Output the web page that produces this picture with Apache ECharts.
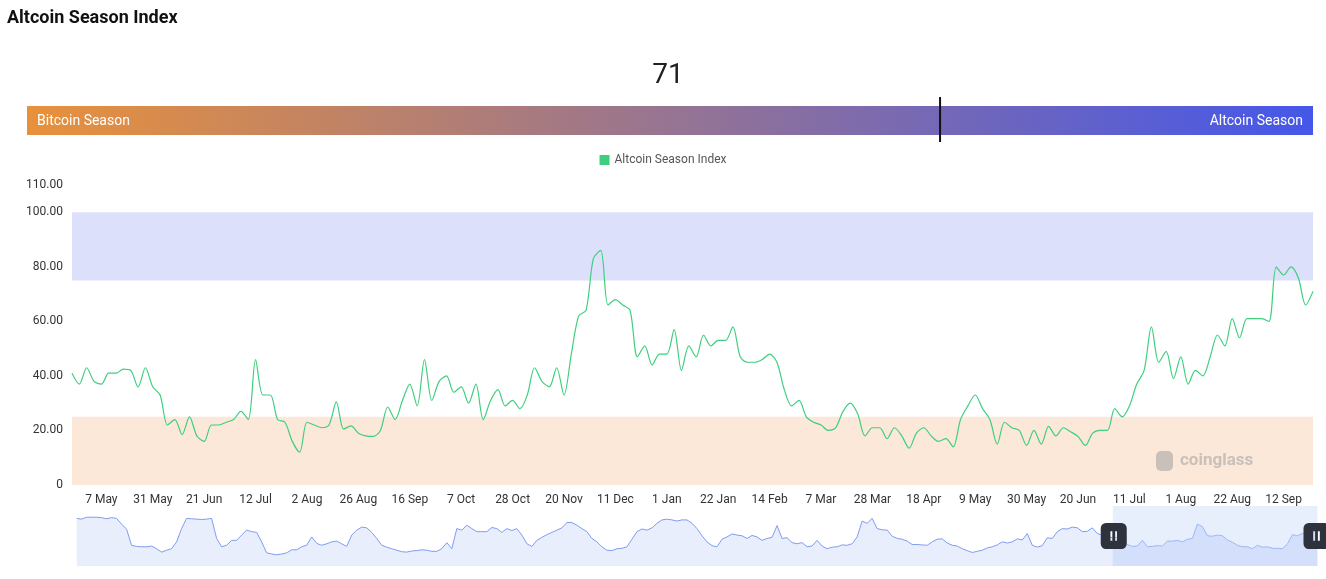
<!DOCTYPE html>
<html>
<head>
<meta charset="utf-8">
<script src="https://cdn.jsdelivr.net/npm/echarts@6/dist/echarts.min.js"></script>
<style>
html,body{margin:0;padding:0;background:#fff;}
#chart{width:1326px;height:579px;}
</style>
</head>
<body>
<div id="chart"></div>
<script>
// ---- data ----
const tickLabels = ['7 May','31 May','21 Jun','12 Jul','2 Aug','26 Aug','16 Sep','7 Oct','28 Oct','20 Nov','11 Dec','1 Jan','22 Jan','14 Feb','7 Mar','28 Mar','18 Apr','9 May','30 May','20 Jun','11 Jul','1 Aug','22 Aug','12 Sep'];
const firstTickIndex = 4;
const tickStep = 7;

// Altcoin Season Index, visible window (3-day steps)
const recentValues = [
  41,37,43,38,37,41,41,42.5,42,36,
  43,36,33,22,24,18.5,25,18,16,22,
  22,23,24,27,24,46,33,33,24,23,
  16,12,23,22,21,22,30.5,20.5,21.7,19,
  18,17.8,20,28.6,24,31,37,29,46,31,
  38,40,34,36,30,37,24,31,35,29,
  31,28,33,43,38,36,43,33,48,62,
  64,83,86,66,68,66,64,47,51,44,
  48,48,57,42,51,47,55,51,53,53,
  58,47,45,45,46,48,45,35,29,31,
  25,23,22,20,21,27,30,26,18,21,
  21,17,21,18,13.5,19,21,18,16,17,
  14,24,29,33,28,24,15,23,21,20,
  14.5,20,15,21.5,18,21,19.5,17.8,14.5,19,
  20,20,28,25,29,37,42,58,45,49,
  39,47,37,42,40,47,55,51,61,54,
  61,61,61,60,80,77,80,76,66,71
];

// full history (overview shown in the slider)
const historyValues = [
  97,95,100,100,100,99,96,99,97,82,
  69,26,23,22,22,24,17,8,13,17,
  35,70,97,96,95,94,95,97,44,22,
  26,39,39,53,66,62,60,35,6,3,
  1,3,6,14,14,22,26,48,31,26,
  30,35,37,30,23,53,66,74,72,60,
  44,26,21,17,13,9,8,11,12,14,
  13,10,10,17,33,17,70,66,79,70,
  62,62,62,73,70,60,
  70,65,70,53,30,23,39,47,54,60,
  66,72,86,86,79,70,62,44,35,22,
  13,12,17,18,22,42,62,69,66,72,
  84,93,95,93,90,93,93,84,70,51,
  35,25,22,42,48,56,53,51,44,52,
  48,39,44,47,78,44,46,33,30,33,
  22,24,39,24,17,21,22,27,26,30,
  48,90,84,97,70,67,66,50,44,42,
  37,28,28,27,26,35,42,
  43,32,26,24,17,12,7,10,13,19,
  22,27,35,32,35,43,40,57,26,21,
  25,46,44,62,70,69,74,72,62,63,
  72,57,53,49,46,47,42,28,23,24,
  39,22,23,25,24,37,37,39,35,42,
  44,82,75,51,50,53,51,40,34,26,
  22,22,17,26,21,22,18,18,17,30,
  54,51,57,60,70,73
];

const altcoinBand = [75, 100];
const bitcoinBand = [0, 25];
const windowStartPercent = 83.5;

// ---- build ----
const categories = recentValues.map(function (_, i) {
  const k = (i - firstTickIndex) / tickStep;
  return (i >= firstTickIndex && Number.isInteger(k) && k < tickLabels.length) ? tickLabels[k] : '';
});
const historyCategories = historyValues.map(function (_, i) { return String(i); });
const currentValue = recentValues[recentValues.length - 1];

const FONT = "Roboto, 'Noto Sans', sans-serif";
const barLeft = 27, barWidth = 1286, barTop = 106, barHeight = 29;
const markerX = barLeft + barWidth * currentValue / 100;

const handlePath = 'path://M3,0H12A3,3,0,0,1,15,3V12A3,3,0,0,1,12,15H3A3,3,0,0,1,0,12V3A3,3,0,0,1,3,0Z' +
  'M5.6,4.8V10.2H6.7V4.8Z M8.3,4.8V10.2H9.4V4.8Z';

const chart = echarts.init(document.getElementById('chart'));
chart.setOption({
  animation: false,
  backgroundColor: '#fff',
  textStyle: { fontFamily: FONT },
  legend: {
    data: ['Altcoin Season Index'],
    top: 149,
    left: 'center',
    icon: 'rect',
    itemWidth: 10,
    itemHeight: 10,
    itemGap: 10,
    textStyle: { color: '#555', fontSize: 12, fontFamily: FONT }
  },
  grid: [
    { left: 72, right: 13, top: 185, bottom: 94 },
    { left: 74, right: 11, top: 506, height: 60, show: false }
  ],
  xAxis: [
    {
      type: 'category',
      data: categories,
      boundaryGap: false,
      axisLine: { show: false },
      axisTick: { show: false },
      splitLine: { show: false },
      axisLabel: {
        interval: function (idx, val) { return val !== ''; },
        color: '#333',
        fontSize: 12,
        margin: 9,
        fontFamily: FONT
      }
    },
    { type: 'category', gridIndex: 1, data: historyCategories, show: false, boundaryGap: false }
  ],
  yAxis: [
    {
      type: 'value',
      min: 0,
      max: 110,
      interval: 20,
      axisLine: { show: false },
      axisTick: { show: false },
      splitLine: { show: false },
      axisLabel: {
        color: '#333',
        fontSize: 12,
        margin: 9,
        fontFamily: FONT,
        formatter: function (v) { return v === 0 ? '0' : v.toFixed(2); }
      }
    },
    { type: 'value', gridIndex: 1, show: false, min: 0, max: 100 }
  ],
  dataZoom: [{
    type: 'slider',
    xAxisIndex: 1,
    start: windowStartPercent,
    end: 100,
    left: 74,
    right: 11,
    top: 506,
    height: 60,
    showDetail: false,
    showDataShadow: true,
    brushSelect: false,
    moveHandleSize: 0,
    borderColor: 'transparent',
    backgroundColor: 'transparent',
    fillerColor: 'rgba(135,175,247,0.2)',
    handleIcon: handlePath,
    handleSize: 26,
    handleStyle: { color: '#2d323d', borderColor: '#2d323d', borderWidth: 0 },
    emphasis: { handleStyle: { color: '#2d323d', borderColor: '#2d323d' } },
    dataBackground: {
      lineStyle: { color: '#7f9cf0', width: 1, opacity: 1 },
      areaStyle: { color: '#8fa8f5', opacity: 0.2 }
    },
    selectedDataBackground: {
      lineStyle: { color: '#a3b8f6', width: 1, opacity: 1 },
      areaStyle: { color: '#8fa8f5', opacity: 0.22 }
    }
  }],
  series: [
    {
      name: 'Altcoin Season Index',
      type: 'line',
      data: recentValues,
      smooth: 0.3,
      showSymbol: false,
      symbol: 'none',
      lineStyle: { color: '#3ecf7e', width: 1.2 },
      itemStyle: { color: '#3ecf7e' },
      z: 5,
      markArea: {
        silent: true,
        data: [
          [{ yAxis: altcoinBand[0], itemStyle: { color: '#dce0fa' } }, { yAxis: altcoinBand[1] }],
          [{ yAxis: bitcoinBand[0], itemStyle: { color: '#fbe8d9' } }, { yAxis: bitcoinBand[1] }]
        ]
      }
    },
    {
      name: 'history',
      type: 'line',
      xAxisIndex: 1,
      yAxisIndex: 1,
      data: historyValues,
      showSymbol: false,
      symbol: 'none',
      silent: true,
      lineStyle: { opacity: 0 }
    }
  ],
  graphic: [
    { type: 'text', x: 7, y: 18, style: { text: 'Altcoin Season Index', font: 'bold 18px ' + FONT, fill: '#111', verticalAlign: 'middle' } },
    { type: 'text', x: 668, y: 76, style: { text: String(currentValue), font: '28px ' + FONT, fill: '#222', align: 'center', verticalAlign: 'middle' } },
    {
      type: 'rect',
      shape: { x: barLeft, y: barTop, width: barWidth, height: barHeight },
      style: { fill: new echarts.graphic.LinearGradient(0, 0, 1, 0, [
        { offset: 0, color: '#e8913b' },
        { offset: 1, color: '#4557e9' }
      ]) }
    },
    { type: 'text', x: 37, y: barTop + barHeight / 2 + 0.5, style: { text: 'Bitcoin Season', font: '14px ' + FONT, fill: '#fff', verticalAlign: 'middle' } },
    { type: 'text', x: 1303, y: barTop + barHeight / 2 + 0.5, style: { text: 'Altcoin Season', font: '14px ' + FONT, fill: '#fff', align: 'right', verticalAlign: 'middle' } },
    { type: 'rect', shape: { x: markerX - 1, y: 97, width: 2, height: 45 }, style: { fill: '#111' } },
    { type: 'rect', z: 10, shape: { x: 1156, y: 451, width: 17, height: 20, r: 5 }, style: { fill: '#c9c0ba' } },
    { type: 'text', z: 10, x: 1180, y: 461, style: { text: 'coinglass', font: 'bold 17px ' + FONT, fill: '#c9c0ba', verticalAlign: 'middle' } }
  ]
});
</script>
</body>
</html>
